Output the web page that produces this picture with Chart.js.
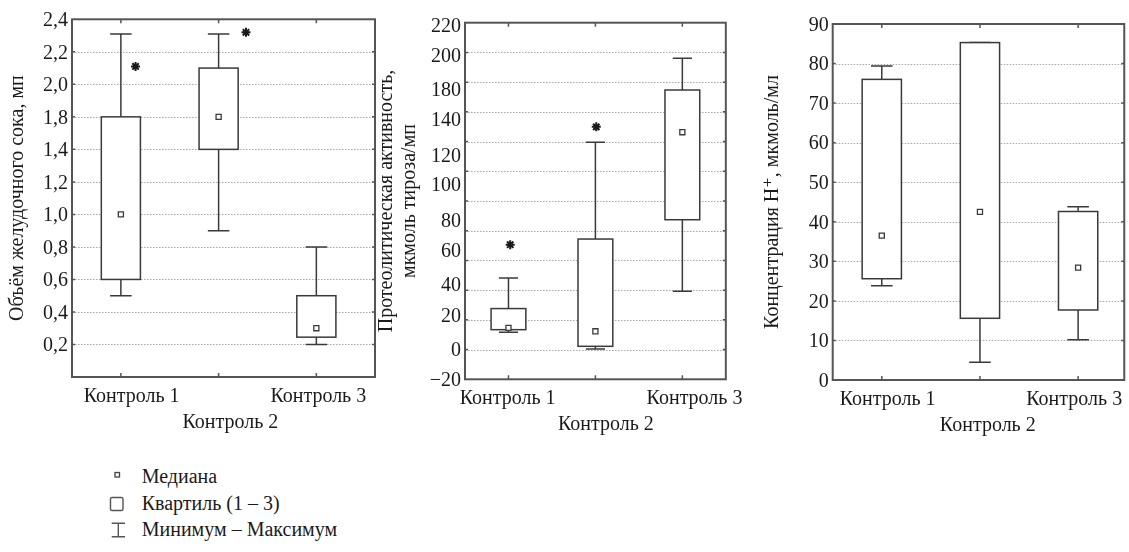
<!DOCTYPE html>
<html>
<head>
<meta charset="utf-8">
<script src="https://cdn.jsdelivr.net/npm/chart.js@4.4.1/dist/chart.umd.min.js"></script>
<style>
  body { margin: 0; background: #fff; width: 1129px; height: 552px; overflow: hidden; position: relative;
         font-family: "Liberation Serif", "DejaVu Serif", serif; color: #1a1a1a; }
  canvas { position: absolute; top: 0; }
  #legend { position: absolute; left: 141.7px; top: 463px; font-size: 20px; line-height: 26.7px; white-space: nowrap; }
  #legend-icons { position: absolute; left: 100px; top: 460px; }
</style>
</head>
<body>
<canvas id="c1" width="378" height="440" style="left:0"></canvas>
<canvas id="c2" width="380" height="440" style="left:372px"></canvas>
<canvas id="c3" width="377" height="440" style="left:752px"></canvas>

<svg id="legend-icons" width="40" height="90">
  <rect x="15" y="12.5" width="4.5" height="4.5" fill="#fff" stroke="#444" stroke-width="1.3"/>
  <rect x="10.5" y="37.5" width="12.5" height="13" rx="1.5" fill="#fff" stroke="#555" stroke-width="1.4"/>
  <path d="M11.7 63.3H25M18.3 63.3V76.7M11.7 76.7H25" fill="none" stroke="#555" stroke-width="1.4"/>
</svg>
<div id="legend">
  <div>Медиана</div>
  <div>Квартиль (1 – 3)</div>
  <div>Минимум – Максимум</div>
</div>

<script>
const categories = ['Контроль 1', 'Контроль 2', 'Контроль 3'];

// Panel 1 – volume, read against the printed labels (the printed axis skips 1,6)
const volMin    = [0.50, 0.90, 0.20];
const volQ1     = [0.60, 1.40, 0.245];
const volMedian = [1.00, 1.80, 0.30];
const volQ3     = [1.80, 2.10, 0.50];
const volMax    = [2.31, 2.31, 0.80];
const volStarX  = [1.15, 2.28];
const volStarY  = [2.11, 2.32];
const volTicks  = [0.2, 0.4, 0.6, 0.8, 1.0, 1.2, 1.4, 1.8, 2.0, 2.2, 2.4];
const volLabelAt = [1.11, 2.12, 3.02];

// Panel 2 – proteolytic activity (gridlines every 20, printed labels spread evenly)
const protMin    = [11.6, 0.4, 39.2];
const protQ1     = [13.4, 2.2, 87.4];
const protMedian = [14.6, 12.3, 146.3];
const protQ3     = [27.6, 74.4, 174.7];
const protMax    = [48.2, 139.5, 196.0];
const protStarX  = [1.02, 2.01];
const protStarY  = [70.6, 149.9];
const protGrid   = [0, 20, 40, 60, 80, 100, 120, 140, 160, 180, 200];
const protTickAt = [218, 198, 175, 155, 131, 111, 87, 67, 44, 23, 0, -20];
const protTickText = ['220', '200', '180', '140', '120', '100', '80', '60', '40', '20', '0', '\u221220'];
const protLabelAt = [0.99, 2.12, 3.14];

// Panel 3 – H+ concentration
const acidMin    = [23.8, 4.5, 10.2];
const acidQ1     = [25.6, 15.6, 17.7];
const acidMedian = [36.5, 42.5, 28.4];
const acidQ3     = [76.0, 85.3, 42.6];
const acidMax    = [79.4, 85.3, 43.8];
const acidTicks  = [0, 10, 20, 30, 40, 50, 60, 70, 80, 90];
const acidLabelAt = [1.06, 2.08, 2.96];

// printed axis of panel 1 goes 1,4 -> 1,8 in one step
const volPos = v => v <= 1.4 ? v : (v <= 1.8 ? 1.4 + (v - 1.4) / 2 : v - 0.2);
const same = v => v;

const FONT = '"Liberation Serif", "DejaVu Serif", serif';
const INK = '#1a1a1a';
const LINE = '#3a3a3a';
const BOX_W = 0.4, CAP_W = 0.22;

function boxPlugin(p) {
  return {
    id: 'boxes',
    beforeDatasetsDraw(chart) {
      const { ctx, chartArea: a, scales: { x, y } } = chart;
      ctx.save();
      // dotted grid
      ctx.strokeStyle = '#a8a8a8';
      ctx.lineWidth = 1;
      ctx.setLineDash([1.5, 1.5]);
      p.grid.forEach(g => {
        const py = Math.round(y.getPixelForValue(p.pos(g))) + 0.5;
        ctx.beginPath(); ctx.moveTo(a.left, py); ctx.lineTo(a.right, py); ctx.stroke();
      });
      ctx.setLineDash([]);
      // boxes and whiskers
      ctx.strokeStyle = LINE;
      ctx.lineWidth = 1.5;
      const unit = x.getPixelForValue(2) - x.getPixelForValue(1);
      p.q1.forEach((q1, i) => {
        const cx = x.getPixelForValue(i + 1);
        const hb = unit * BOX_W / 2, hc = unit * CAP_W / 2;
        const yMin = y.getPixelForValue(p.pos(p.min[i]));
        const yQ1 = y.getPixelForValue(p.pos(q1));
        const yQ3 = y.getPixelForValue(p.pos(p.q3[i]));
        const yMax = y.getPixelForValue(p.pos(p.max[i]));
        ctx.beginPath();
        ctx.moveTo(cx, yMax); ctx.lineTo(cx, yQ3);
        ctx.moveTo(cx, yQ1); ctx.lineTo(cx, yMin);
        ctx.moveTo(cx - hc, yMax); ctx.lineTo(cx + hc, yMax);
        ctx.moveTo(cx - hc, yMin); ctx.lineTo(cx + hc, yMin);
        ctx.stroke();
        ctx.fillStyle = '#fff';
        ctx.fillRect(cx - hb, yQ3, hb * 2, yQ1 - yQ3);
        ctx.strokeRect(cx - hb, yQ3, hb * 2, yQ1 - yQ3);
      });
      ctx.restore();
    },
    afterDatasetsDraw(chart) {
      const { ctx, chartArea: a, scales: { x, y } } = chart;
      ctx.save();
      ctx.strokeStyle = '#555';
      ctx.lineWidth = 1.5;
      ctx.beginPath();
      [1, 2, 3].forEach(c => {
        const px = x.getPixelForValue(c);
        ctx.moveTo(px, a.top); ctx.lineTo(px, a.top + 4);
        ctx.moveTo(px, a.bottom); ctx.lineTo(px, a.bottom - 4);
      });
      p.grid.forEach(g => {
        const py = y.getPixelForValue(p.pos(g));
        ctx.moveTo(a.left, py); ctx.lineTo(a.left + 3, py);
        ctx.moveTo(a.right, py); ctx.lineTo(a.right - 3, py);
      });
      ctx.stroke();
      ctx.lineWidth = 2;
      ctx.strokeRect(a.left, a.top, a.right - a.left, a.bottom - a.top);
      ctx.restore();
    }
  };
}

function makePanel(id, p) {
  const canvas = document.getElementById(id);
  const H = canvas.height, W = canvas.width;
  const medians = p.median.map((v, i) => ({ x: i + 1, y: p.pos(v) }));
  const stars = p.starX.map((sx, i) => ({ x: sx, y: p.pos(p.starY[i]) }));
  return new Chart(canvas, {
    type: 'scatter',
    data: {
      datasets: [
        { data: medians, pointStyle: 'rect', pointRadius: 3.6, borderWidth: 1.3,
          borderColor: LINE, backgroundColor: '#fff' },
        { data: stars, pointStyle: 'star', pointRadius: 4.5, borderWidth: 2,
          borderColor: INK, backgroundColor: INK }
      ]
    },
    options: {
      responsive: false,
      animation: false,
      events: [],
      layout: { autoPadding: false, padding: { left: 0, top: p.area.top, right: W - p.area.right, bottom: 0 } },
      plugins: { legend: { display: false }, tooltip: { enabled: false } },
      scales: {
        x: {
          type: 'linear', min: p.xMin, max: p.xMax, bounds: 'data',
          grid: { display: false, drawTicks: false }, border: { display: false },
          afterBuildTicks: s => { s.ticks = p.labelAt.map(v => ({ value: v })); },
          afterFit: s => { s.height = H - p.area.bottom; },
          ticks: {
            autoSkip: false, maxRotation: 0, minRotation: 0, padding: 6.7, color: INK,
            font: { family: FONT, size: 20, lineHeight: 1.3 },
            callback: (v, i) => i === 1 ? ['', categories[i]] : categories[i]
          }
        },
        y: {
          type: 'linear', min: p.yMin, max: p.yMax, bounds: 'data',
          grid: { display: false, drawTicks: false }, border: { display: false },
          afterBuildTicks: s => { s.ticks = p.tickAt.map(v => ({ value: p.pos(v) })); },
          afterFit: s => { s.width = p.area.left; },
          ticks: {
            autoSkip: false, padding: 4, color: INK, labelOffset: 1.5,
            font: { family: FONT, size: 20 },
            callback: (v, i) => p.tickText[i]
          },
          title: {
            display: true, text: p.title, color: INK,
            font: { family: FONT, size: 20, lineHeight: 1.15 },
            padding: { top: p.titlePad, bottom: 0 }
          }
        }
      }
    },
    plugins: [boxPlugin(p)]
  });
}

makePanel('c1', {
  min: volMin, q1: volQ1, median: volMedian, q3: volQ3, max: volMax,
  starX: volStarX, starY: volStarY, pos: volPos,
  grid: volTicks.slice(0, -1), tickAt: volTicks,
  tickText: volTicks.map(v => v.toFixed(1).replace('.', ',')),
  labelAt: volLabelAt, xMin: 0.5, xMax: 3.6, yMin: 0, yMax: 2.2,
  area: { left: 72, top: 19.3, right: 375, bottom: 377 },
  title: 'Объём желудочного сока, мп', titlePad: 6
});

makePanel('c2', {
  min: protMin, q1: protQ1, median: protMedian, q3: protQ3, max: protMax,
  starX: protStarX, starY: protStarY, pos: same,
  grid: protGrid, tickAt: protTickAt, tickText: protTickText,
  labelAt: protLabelAt, xMin: 0.5, xMax: 3.5, yMin: -20, yMax: 220,
  area: { left: 93, top: 22.7, right: 356.3, bottom: 379.3 },
  title: ['Протеолитическая активность,', 'мкмоль тироза/мп'], titlePad: 3.5
});

makePanel('c3', {
  min: acidMin, q1: acidQ1, median: acidMedian, q3: acidQ3, max: acidMax,
  starX: [], starY: [], pos: same,
  grid: acidTicks.slice(1, -1), tickAt: acidTicks, tickText: acidTicks.map(String),
  labelAt: acidLabelAt, xMin: 0.5, xMax: 3.47, yMin: 0, yMax: 90,
  area: { left: 80.7, top: 24, right: 376, bottom: 380 },
  title: 'Концентрация H\u207A, мкмоль/мл', titlePad: 9
});
</script>
</body>
</html>
